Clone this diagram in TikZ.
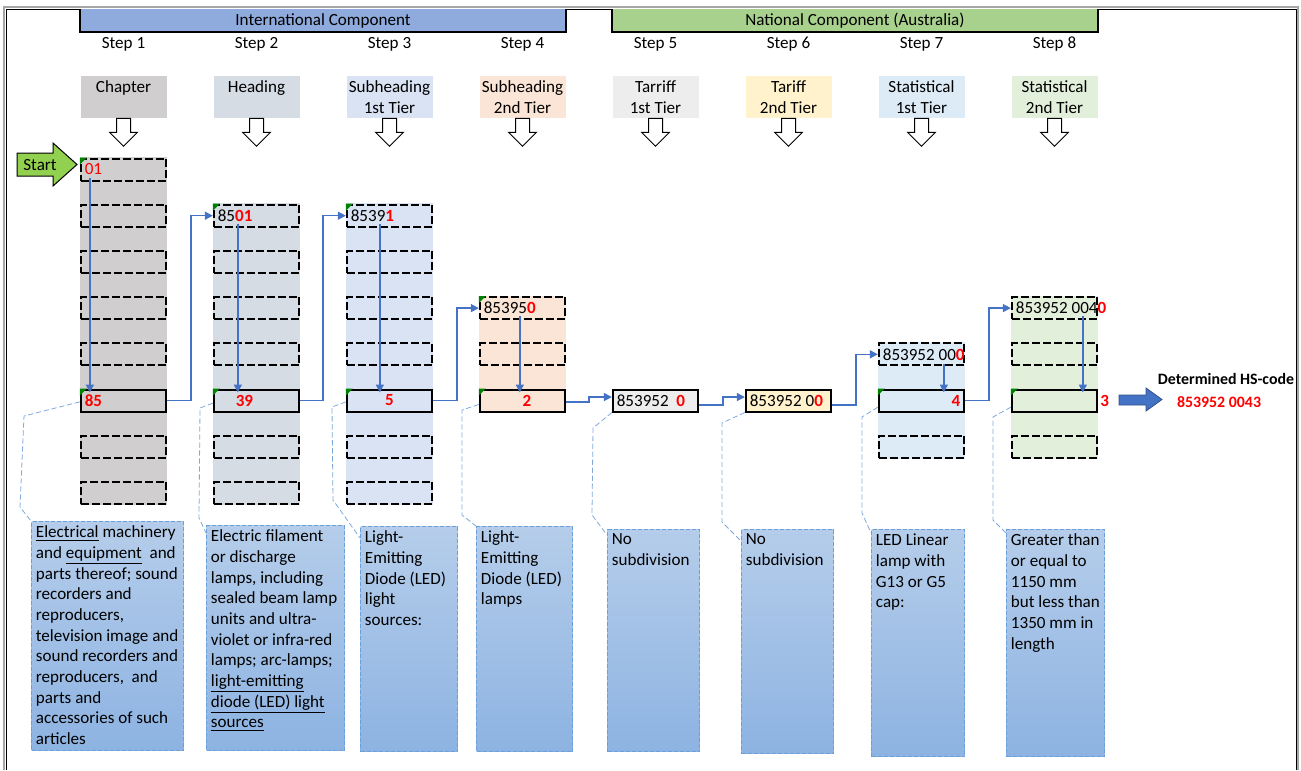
\documentclass[tikz,border=0pt]{standalone}
\usepackage{fontspec}
\setmainfont{Carlito}
\usetikzlibrary{arrows.meta}

\definecolor{intlfill}{HTML}{8FAADC}
\definecolor{natfill}{HTML}{A9D18E}
\definecolor{chapfill}{HTML}{D0CECE}
\definecolor{headfill}{HTML}{D6DCE4}
\definecolor{subafill}{HTML}{DAE3F3}
\definecolor{subbfill}{HTML}{FBE5D6}
\definecolor{tarafill}{HTML}{EDEDED}
\definecolor{tarbfill}{HTML}{FFF2CC}
\definecolor{statafill}{HTML}{DDEBF7}
\definecolor{statbfill}{HTML}{E2EFDA}
\definecolor{startfill}{HTML}{92D050}
\definecolor{flowblue}{HTML}{4472C4}
\definecolor{leadblue}{HTML}{7FA9DC}
\definecolor{desctop}{HTML}{B5CDEA}
\definecolor{descbot}{HTML}{8DB3E2}
\definecolor{descline}{HTML}{6A9FDA}
\definecolor{framegray}{HTML}{A6A6A6}

\newcommand{\hdig}[1]{\textcolor{red}{\textbf{#1}}}

\tikzset{
  cell/.style={draw, line width=1.5pt, dash pattern=on 6pt off 2.25pt,
    minimum width=64pt, minimum height=16.5pt, inner xsep=3pt, inner ysep=0pt},
  pick/.style={cell, solid},
  cat/.style={minimum width=64.5pt, minimum height=31.5pt, inner sep=0pt, align=center},
  bar/.style={minimum width=364.5pt, minimum height=16.875pt, inner sep=0pt},
  hollow/.style={draw, line width=0.75pt, fill=white},
  corner/.style={fill=green!50!black},
  flow/.style={->, draw=flowblue, line width=1.1pt},
  leader/.style={draw=leadblue, line width=0.6pt, dash pattern=on 4pt off 2pt},
  desc/.style={draw=descline, line width=0.75pt, dash pattern=on 3pt off 1.5pt,
    top color=desctop, bottom color=descbot, inner sep=0pt, anchor=north west},
  desctext/.style={anchor=north west, align=left, inner xsep=3.5pt, inner ysep=3.5pt}
}

\begin{document}
\begin{tikzpicture}[x=0.75pt, y=-0.75pt, font=\fontsize{12.8}{15.5}\selectfont, >={Triangle[length=6pt,width=6pt]}]
\useasboundingbox (0,0) rectangle (1301,770);
\draw[framegray, line width=1.5pt] (4,770) -- (4,7) -- (1298,7) -- (1298,770);
\draw[line width=0.6pt] (6.5,770) -- (6.5,9.5) -- (1296,9.5) -- (1296,770);

\node[bar, fill=intlfill] (intl) at (323,20.75) {International Component};
\node[bar, fill=natfill] (natl) at (855,20.75) {National Component (Australia)};
\draw[line width=1.5pt] (intl.north west) |- (intl.south east) -- (intl.north east);
\draw[line width=1.5pt] (natl.north west) |- (natl.south east) -- (natl.north east);

\node (s1) at (123.5,44.5) {Step 1};
\node (s2) at (256.5,44.5) {Step 2};
\node (s3) at (389.5,44.5) {Step 3};
\node (s4) at (522.5,44.5) {Step 4};
\node (s5) at (655.5,44.5) {Step 5};
\node (s6) at (788.5,44.5) {Step 6};
\node (s7) at (921.5,44.5) {Step 7};
\node (s8) at (1054.5,44.5) {Step 8};

\node[cat, fill=chapfill] (k1) at (123.5,97) {Chapter\\~};
\node[cat, fill=headfill] (k2) at (256.5,97) {Heading\\~};
\node[cat, fill=subafill] (k3) at (389.5,97) {Subheading\\1st Tier};
\node[cat, fill=subbfill] (k4) at (522.5,97) {Subheading\\2nd Tier};
\node[cat, fill=tarafill] (k5) at (655.5,97) {Tarriff\\1st Tier};
\node[cat, fill=tarbfill] (k6) at (788.5,97) {Tariff\\2nd Tier};
\node[cat, fill=statafill] (k7) at (921.5,97) {Statistical\\1st Tier};
\node[cat, fill=statbfill] (k8) at (1054.5,97) {Statistical\\2nd Tier};

\draw[hollow] (k1.south) ++(-7,0) -- ++(0,14) -- ++(-7,0) -- ++(14,14) -- ++(14,-14) -- ++(-7,0) -- ++(0,-14) -- cycle;
\draw[hollow] (k2.south) ++(-7,0) -- ++(0,14) -- ++(-7,0) -- ++(14,14) -- ++(14,-14) -- ++(-7,0) -- ++(0,-14) -- cycle;
\draw[hollow] (k3.south) ++(-7,0) -- ++(0,14) -- ++(-7,0) -- ++(14,14) -- ++(14,-14) -- ++(-7,0) -- ++(0,-14) -- cycle;
\draw[hollow] (k4.south) ++(-7,0) -- ++(0,14) -- ++(-7,0) -- ++(14,14) -- ++(14,-14) -- ++(-7,0) -- ++(0,-14) -- cycle;
\draw[hollow] (k5.south) ++(-7,0) -- ++(0,14) -- ++(-7,0) -- ++(14,14) -- ++(14,-14) -- ++(-7,0) -- ++(0,-14) -- cycle;
\draw[hollow] (k6.south) ++(-7,0) -- ++(0,14) -- ++(-7,0) -- ++(14,14) -- ++(14,-14) -- ++(-7,0) -- ++(0,-14) -- cycle;
\draw[hollow] (k7.south) ++(-7,0) -- ++(0,14) -- ++(-7,0) -- ++(14,14) -- ++(14,-14) -- ++(-7,0) -- ++(0,-14) -- cycle;
\draw[hollow] (k8.south) ++(-7,0) -- ++(0,14) -- ++(-7,0) -- ++(14,14) -- ++(14,-14) -- ++(-7,0) -- ++(0,-14) -- cycle;

\draw[fill=startfill, line width=0.75pt] (17,153) -- (53,153) -- (53,143) -- (77,164.5) -- (53,186) -- (53,176) -- (17,176) -- cycle;
\node (start) at (40,165.5) {Start};

\fill[chapfill] (80,157) rectangle (167,505);
\fill[headfill] (213,203) rectangle (300,505);
\fill[subafill] (346,203) rectangle (433,505);
\fill[subbfill] (479,296) rectangle (566,412);
\fill[statafill] (878,342) rectangle (965,459);
\fill[statbfill] (1011,296) rectangle (1098,459);

\node[cell] (a1) at (123.5,169.5) {\makebox[58pt][l]{\textcolor{red}{01}}};
\node[cell] (a2) at (123.5,215.7) {};
\node[cell] (a3) at (123.5,261.9) {};
\node[cell] (a4) at (123.5,308.1) {};
\node[cell] (a5) at (123.5,354.3) {};
\node[pick] (a6) at (123.5,400.5) {\makebox[58pt][l]{\hdig{85}}};
\node[cell] (a7) at (123.5,446.7) {};
\node[cell] (a8) at (123.5,492.9) {};

\node[cell] (b2) at (256.5,215.7) {\makebox[58pt][l]{85\hdig{01}}};
\node[cell] (b3) at (256.5,261.9) {};
\node[cell] (b4) at (256.5,308.1) {};
\node[cell] (b5) at (256.5,354.3) {};
\node[pick] (b6) at (256.5,400.5) {\makebox[58pt][l]{\hspace{13.5pt}\hdig{39}}};
\node[cell] (b7) at (256.5,446.7) {};
\node[cell] (b8) at (256.5,492.9) {};

\node[cell] (c2) at (389.5,215.7) {\makebox[58pt][l]{8539\hdig{1}}};
\node[cell] (c3) at (389.5,261.9) {};
\node[cell] (c4) at (389.5,308.1) {};
\node[cell] (c5) at (389.5,354.3) {};
\node[pick] (c6) at (389.5,400.5) {\makebox[58pt]{\hdig{5}}};
\node[cell] (c7) at (389.5,446.7) {};
\node[cell] (c8) at (389.5,492.9) {};

\node[cell] (d4) at (522.5,308.1) {\makebox[58pt][l]{85395\hdig{0}}};
\node[cell] (d5) at (522.5,354.3) {};
\node[pick] (d6) at (522.5,400.5) {\makebox[58pt]{\phantom{0}\hdig{2}}};

\node[pick, fill=tarafill] (e6) at (655.5,400.5) {\makebox[58pt][l]{853952~~\hdig{0}}};

\node[pick, fill=tarbfill] (f6) at (788.5,400.5) {\makebox[58pt][l]{853952 0\hdig{0}}};

\node[cell] (g5) at (921.5,354.3) {\makebox[58pt][l]{853952 00\hdig{0}}};
\node[pick] (g6) at (921.5,400.5) {\makebox[58pt][r]{\hdig{4}}};
\node[cell] (g7) at (921.5,446.7) {};

\node[cell] (h4) at (1054.5,308.1) {\makebox[58pt][l]{853952 004\hdig{0}}};
\node[cell] (h5) at (1054.5,354.3) {};
\node[pick, label={[inner sep=1.5pt]east:\hdig{3}}] (h6) at (1054.5,400.5) {};
\node[cell] (h7) at (1054.5,446.7) {};

\fill[corner] (a1.north west) -- ++(7,0) -- ++(-7,7) -- cycle;
\fill[corner] (a6.north west) -- ++(7,0) -- ++(-7,7) -- cycle;
\fill[corner] (b2.north west) -- ++(7,0) -- ++(-7,7) -- cycle;
\fill[corner] (b6.north west) -- ++(7,0) -- ++(-7,7) -- cycle;
\fill[corner] (c2.north west) -- ++(7,0) -- ++(-7,7) -- cycle;
\fill[corner] (c6.north west) -- ++(7,0) -- ++(-7,7) -- cycle;
\fill[corner] (d4.north west) -- ++(7,0) -- ++(-7,7) -- cycle;
\fill[corner] (d6.north west) -- ++(7,0) -- ++(-7,7) -- cycle;
\fill[corner] (g6.north west) -- ++(7,0) -- ++(-7,7) -- cycle;
\fill[corner] (h6.north west) -- ++(7,0) -- ++(-7,7) -- cycle;

\draw[flow] ([shift={(10,8)}]a1.west) -- ([shift={(10,4)}]a6.north west);
\draw[flow] ([shift={(25,8)}]b2.west) -- ([shift={(25,4)}]b6.north west);
\draw[flow] ([shift={(34,8)}]c2.west) -- ([shift={(34,4)}]c6.north west);
\draw[flow] ([shift={(41,8)}]d4.west) -- ([shift={(41,4)}]d6.north west);
\draw[flow] ([shift={(66,10)}]g5.west) -- ([shift={(66,4)}]g6.north west);
\draw[flow] ([shift={(72,8)}]h4.west) -- ([shift={(72,4)}]h6.north west);

\draw[flow] (a6.east) -- ++(24,0) |- (b2.west);
\draw[flow] (b6.east) -- ++(23,0) |- (c2.west);
\draw[flow] (c6.east) -- ++(24,0) |- (d4.west);
\draw[flow] ([yshift=-1.2pt]d6.east) -- ++(23,0) |- ([yshift=2.6pt]e6.west);
\draw[flow] ([yshift=-3.4pt]e6.east) -- ++(24,0) |- ([yshift=2.6pt]f6.west);
\draw[flow] ([yshift=-3.4pt]f6.east) -- ++(24,0) |- (g5.west);
\draw[flow] (g6.east) -- ++(24,0) |- (h4.west);

\draw[fill=flowblue, draw=flowblue!70!black, line width=0.6pt] (1119,395) -- (1146,395) -- (1146,388) -- (1162,399.5) -- (1146,411) -- (1146,405) -- (1119,405) -- cycle;
\node[font=\fontsize{11.9}{14}\selectfont\bfseries] (hs) at (1226,379) {Determined HS-code};
\node[font=\fontsize{11.9}{14}\selectfont\bfseries, text=red] (code) at (1219,402) {853952 0043};

\node[desc, minimum width=114pt, minimum height=171.75pt] (t1) at (31,521) {};
\node[desc, minimum width=103.5pt, minimum height=168.75pt] (t2) at (206,525) {};
\node[desc, minimum width=72.75pt, minimum height=168.75pt] (t3) at (360,526) {};
\node[desc, minimum width=72pt, minimum height=168.75pt] (t4) at (476,526) {};
\node[desc, minimum width=69pt, minimum height=166.5pt] (t5) at (607,529) {};
\node[desc, minimum width=69pt, minimum height=168pt] (t6) at (741,529) {};
\node[desc, minimum width=69.75pt, minimum height=170.25pt] (t7) at (871,529) {};
\node[desc, minimum width=73.5pt, minimum height=170.25pt] (t8) at (1006,529) {};

\node[desctext] (n1) at (t1.north west) {\underline{Electrical} machinery\\and \underline{equipment}\ \ and\\parts thereof; sound\\recorders and\\reproducers,\\television image and\\sound recorders and\\reproducers,\ \ and\\parts and\\accessories of such\\articles};
\node[desctext] (n2) at (t2.north west) {Electric filament\\or discharge\\lamps, including\\sealed beam lamp\\units and ultra-\\violet or infra-red\\lamps; arc-lamps;\\\underline{light-emitting}\\\underline{diode (LED) light}\\\underline{sources}};
\node[desctext] (n3) at (t3.north west) {Light-\\Emitting\\Diode (LED)\\light\\sources:};
\node[desctext] (n4) at (t4.north west) {Light-\\Emitting\\Diode (LED)\\lamps};
\node[desctext] (n5) at (t5.north west) {No\\subdivision};
\node[desctext] (n6) at (t6.north west) {No\\subdivision};
\node[desctext] (n7) at (t7.north west) {LED Linear\\lamp with\\G13 or G5\\cap:};
\node[desctext] (n8) at (t8.north west) {Greater than\\or equal to\\1150 mm\\but less than\\1350 mm in\\length};

\draw[leader] ([yshift=-1pt]a6.west) -- (24,416) -- (20,507) -- (t1.north west);
\draw[leader] ([yshift=-2pt]b6.west) -- (200,408) -- (199,518) -- ([shift={(0,8)}]t2.north west);
\draw[leader] ([yshift=-1pt]c6.west) -- (332,407) -- (333,500) -- ([shift={(0,12)}]t3.north west);
\draw[leader] ([yshift=-3pt]d6.west) -- (462,410) -- (462,515) -- (t4.north west);
\draw[leader] (e6.south west) -- (593,428) -- (592,515) -- ([shift={(0,6)}]t5.north west);
\draw[leader] (f6.south west) -- (722,423) -- (722,522) -- ([shift={(0,12)}]t6.north west);
\draw[leader] ([yshift=-5pt]g6.west) -- (862,417) -- (862,513) -- ([shift={(0,4)}]t7.north west);
\draw[leader] ([yshift=-5pt]h6.west) -- (993,417) -- (993,520) -- ([shift={(0,4)}]t8.north west);
\end{tikzpicture}
\end{document}
